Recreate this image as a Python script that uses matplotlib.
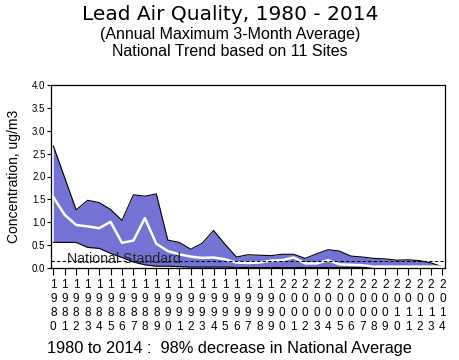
import matplotlib
matplotlib.use("Agg")
import matplotlib.pyplot as plt
import numpy as np

years = list(range(1980, 2015))
upper = [2.67, 1.97, 1.27, 1.48, 1.43, 1.28, 1.04, 1.60, 1.57, 1.62,
         0.61, 0.56, 0.41, 0.54, 0.82, 0.52, 0.24, 0.29, 0.28, 0.27,
         0.30, 0.30, 0.21, 0.31, 0.40, 0.37, 0.26, 0.24, 0.21, 0.20,
         0.17, 0.18, 0.16, 0.11, 0.03]
mean = [1.55, 1.16, 0.94, 0.91, 0.87, 1.01, 0.55, 0.60, 1.09, 0.53,
        0.37, 0.30, 0.25, 0.22, 0.23, 0.19, 0.12, 0.11, 0.12, 0.16,
        0.17, 0.23, 0.10, 0.10, 0.17, 0.08, 0.07, 0.06, 0.03, 0.03,
        0.03, 0.03, 0.03, 0.03, 0.03]
lower = [0.56, 0.56, 0.56, 0.45, 0.43, 0.32, 0.23, 0.13, 0.07, 0.04,
         0.04, 0.03, 0.02, 0.02, 0.02, 0.02, 0.01, 0.01, 0.01, 0.01,
         0.01, 0.01, 0.01, 0.01, 0.01, 0.01, 0.01, 0.01, 0.01, 0.01,
         0.01, 0.01, 0.01, 0.01, 0.00]
standard = 0.15
yticks = [0.0, 0.5, 1.0, 1.5, 2.0, 2.5, 3.0, 3.5, 4.0]

FONT = ['Liberation Sans', 'DejaVu Sans']

fig = plt.figure(figsize=(4.6, 3.6), dpi=100)
ax = fig.add_axes([51/460, 1-268/360, (445-51)/460, (268-85)/360])

ax.fill_between(years, lower, upper, color='#7373d6', lw=0, zorder=1)
ax.plot(years, upper, color='black', lw=0.8, zorder=2)
ax.plot(years, lower, color='black', lw=0.8, zorder=2)
ax.plot(years, mean, color='white', lw=1.8, zorder=3)
ax.axhline(standard, color='black', lw=0.8, ls=(0, (3, 2)), zorder=4)
ax.text(1981.2, standard - 0.03, 'National Standard', fontsize=10.2, family=FONT,
        color='#222222', va='baseline', ha='left', zorder=5)

ax.set_xlim(1979.8, 2014.22)
ax.set_ylim(0, 4.0)
ax.set_yticks(yticks)
ax.set_yticklabels([f"{v:.1f}" for v in yticks], family=FONT, fontsize=7)
ax.set_xticks(years)
ax.set_xticklabels(['\n'.join(str(y)) for y in years], family=FONT,
                   fontsize=8.5, linespacing=1.2)
ax.tick_params(axis='x', length=5, width=0.8, pad=3, direction='out')
ax.tick_params(axis='y', length=3, width=0.8, pad=1, direction='out')
for s in ax.spines.values():
    s.set_linewidth(0.9)
    s.set_color('black')

ax.set_ylabel('Concentration, ug/m3', family=FONT, fontsize=10, labelpad=8)

fig.text(0.5, 1-14/360, 'Lead Air Quality, 1980 - 2014', ha='center', va='center',
         fontsize=14.5, family=['DejaVu Sans'])
fig.text(0.5, 1-34/360, '(Annual Maximum 3-Month Average)', ha='center', va='center',
         fontsize=11.5, family=FONT)
fig.text(0.5, 1-51/360, 'National Trend based on 11 Sites', ha='center', va='center',
         fontsize=11.5, family=FONT)
fig.text(47/460, 1-348/360, '1980 to 2014 :  98% decrease in National Average',
         ha='left', va='center', fontsize=11.8, family=FONT)

fig.savefig('out.png', dpi=100)
